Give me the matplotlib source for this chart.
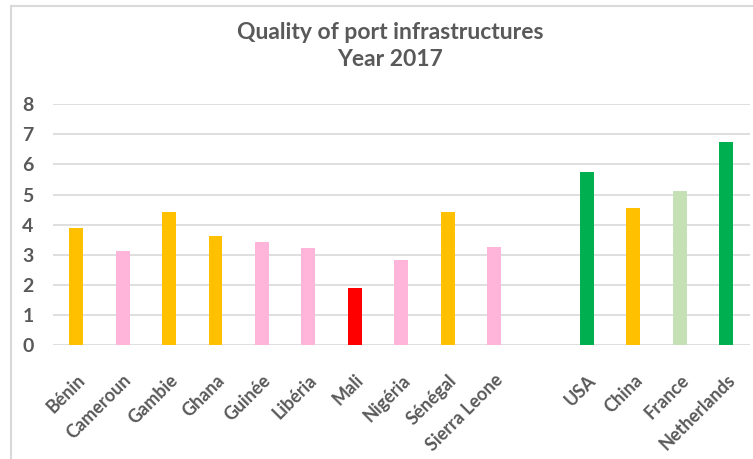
import matplotlib.pyplot as plt
from matplotlib.lines import Line2D

# Port infrastructure quality scores, 2017 (blank entry separates the two groups)
countries = ["Bénin", "Cameroun", "Gambie", "Ghana", "Guinée", "Libéria", "Mali",
             "Nigéria", "Sénégal", "Sierra Leone", "", "USA", "China", "France", "Netherlands"]
scores = [3.88, 3.13, 4.41, 3.62, 3.43, 3.23, 1.88, 2.82, 4.41, 3.26, 0, 5.76, 4.55, 5.12, 6.76]
colors = ["#FFC000", "#FFB5DA", "#FFC000", "#FFC000", "#FFB5DA", "#FFB5DA", "#FF0000",
          "#FFB5DA", "#FFC000", "#FFB5DA", "none", "#00B050", "#FFC000", "#C5E0B4", "#00B050"]

plt.rcParams['font.family'] = ['Lato', 'DejaVu Sans']
grey = "#595959"

fig = plt.figure(figsize=(7.53, 4.59), dpi=100)
ax = fig.add_axes([53 / 753, 1 - 345 / 459, (749.5 - 53) / 753, (345 - 104.3) / 459])

x = range(len(countries))
ax.bar(x, scores, width=0.3, color=colors, zorder=3)

ax.set_xlim(-0.5, len(countries) - 0.5)
ax.set_ylim(0, 8)
ax.set_yticks(range(0, 9))
ax.grid(axis='y', color="#D9D9D9", linewidth=1.2, zorder=0)
for s in ax.spines.values():
    s.set_visible(False)
ax.tick_params(length=0)
ax.tick_params(axis='y', pad=14, labelcolor=grey)
ax.set_yticklabels([str(v) for v in range(0, 9)], fontweight='bold', fontsize=14)
ax.set_xticks(list(x))
ax.set_xticklabels(countries, rotation=45, ha='right', rotation_mode='anchor',
                   fontsize=13, fontweight='bold', color=grey)
ax.tick_params(axis='x', pad=19)

fig.suptitle("Quality of port infrastructures\nYear 2017", y=0.952, fontsize=16.5,
             fontweight='bold', color=grey, linespacing=1.35, x=0.518)

# outer chart frame (left and top edges)
fig.add_artist(Line2D([11 / 753, 11 / 753], [0, 1 - 6 / 459], color="#D9D9D9", linewidth=1.5))
fig.add_artist(Line2D([11 / 753, 1], [1 - 6 / 459, 1 - 6 / 459], color="#D9D9D9", linewidth=1.5))

fig.savefig("out.png", dpi=100)
